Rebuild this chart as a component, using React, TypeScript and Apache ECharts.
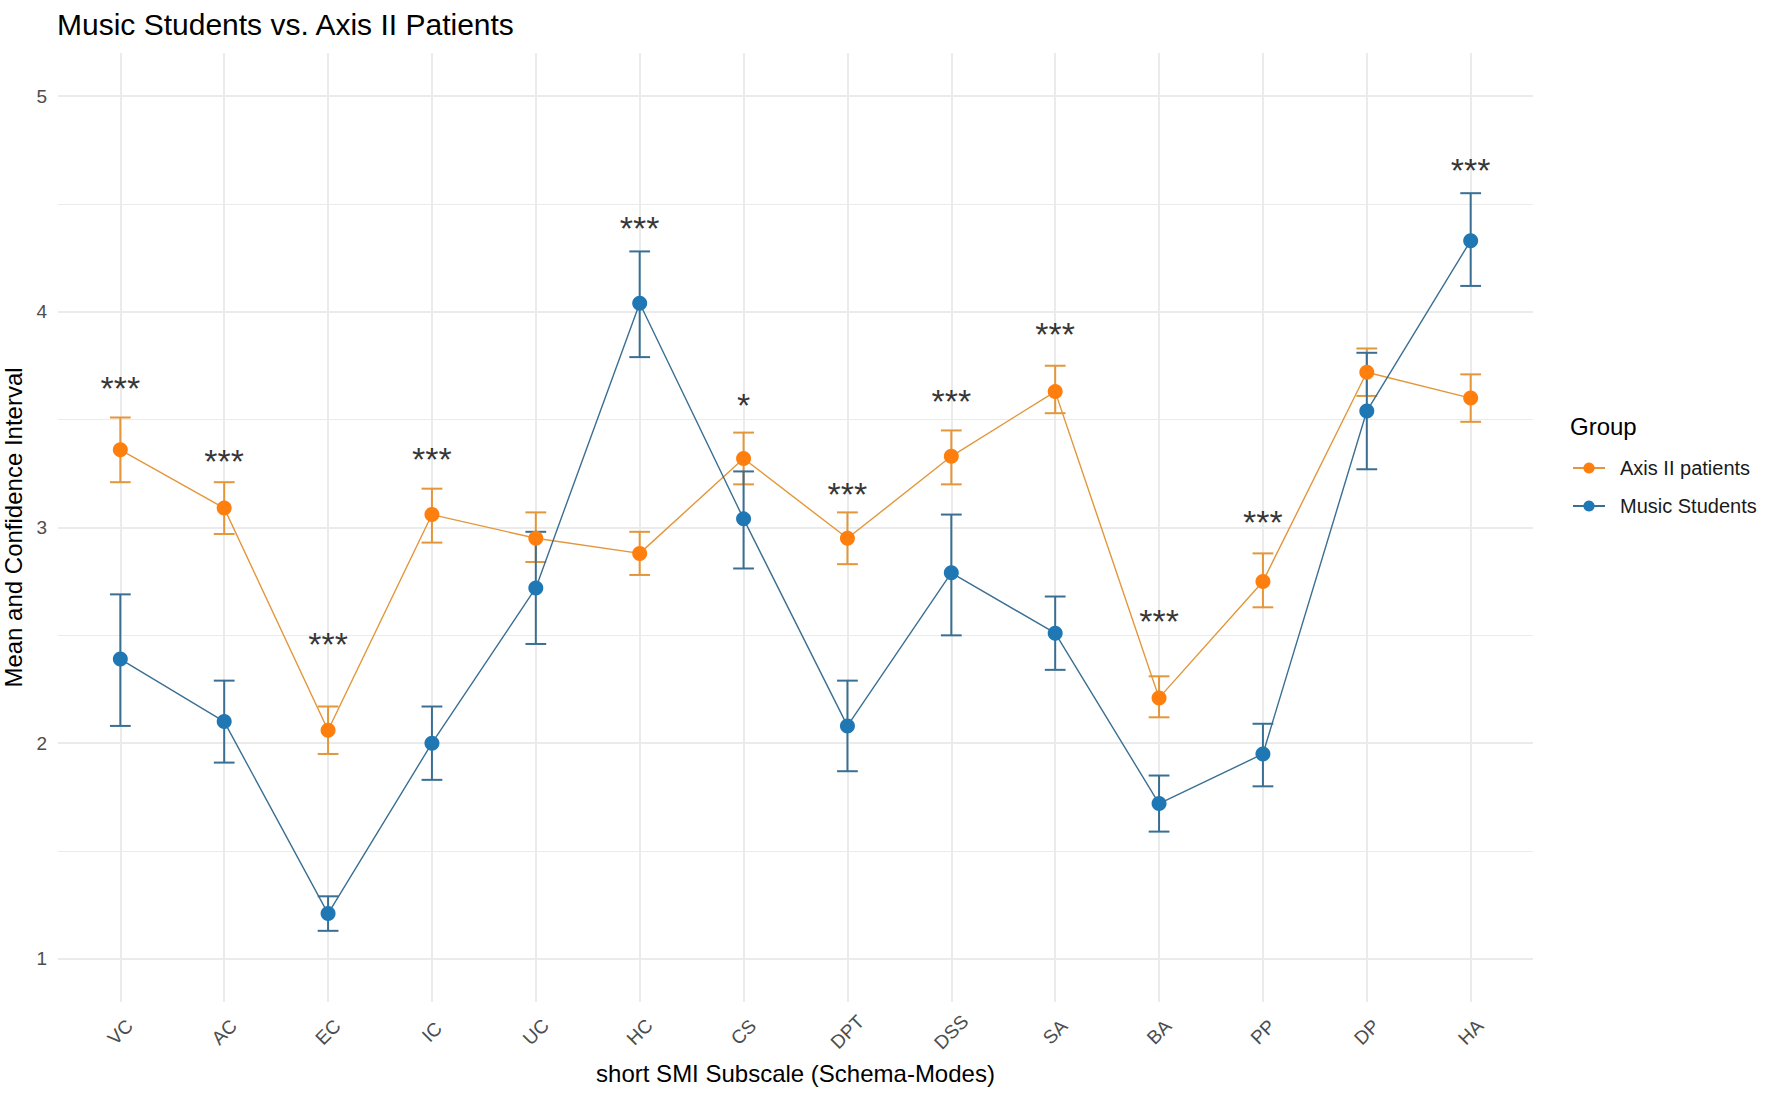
import { useEffect, useRef } from "react";
import * as echarts from "echarts";

const categories = ["VC", "AC", "EC", "IC", "UC", "HC", "CS", "DPT", "DSS", "SA", "BA", "PP", "DP", "HA"];

const axisMean = [3.36, 3.09, 2.06, 3.06, 2.95, 2.88, 3.32, 2.95, 3.33, 3.63, 2.21, 2.75, 3.72, 3.6];
const axisLower = [3.21, 2.97, 1.95, 2.93, 2.84, 2.78, 3.2, 2.83, 3.2, 3.53, 2.12, 2.63, 3.61, 3.49];
const axisUpper = [3.51, 3.21, 2.17, 3.18, 3.07, 2.98, 3.44, 3.07, 3.45, 3.75, 2.31, 2.88, 3.83, 3.71];

const musicMean = [2.39, 2.1, 1.21, 2.0, 2.72, 4.04, 3.04, 2.08, 2.79, 2.51, 1.72, 1.95, 3.54, 4.33];
const musicLower = [2.08, 1.91, 1.13, 1.83, 2.46, 3.79, 2.81, 1.87, 2.5, 2.34, 1.59, 1.8, 3.27, 4.12];
const musicUpper = [2.69, 2.29, 1.29, 2.17, 2.98, 4.28, 3.26, 2.29, 3.06, 2.68, 1.85, 2.09, 3.81, 4.55];

const sigLabels = ["***", "***", "***", "***", "", "***", "*", "***", "***", "***", "***", "***", "", "***"];
const sigY = [3.68, 3.34, 2.49, 3.35, 0, 4.42, 3.6, 3.19, 3.62, 3.93, 2.6, 3.06, 0, 4.69];

const yTicks = [1, 2, 3, 4, 5];
const yMinorTicks = [1.5, 2.5, 3.5, 4.5];

const FONT = "'Liberation Sans', Arial, sans-serif";
const GRID_COLOR = "#EBEBEB";

const AXIS_POINT = "#FF7F0E";
const AXIS_LINE = "#E3963A";
const MUSIC_POINT = "#1F77B4";
const MUSIC_LINE = "#3A6F93";


function errorBarSeries(name: string, lower: number[], upper: number[], color: string) {
  return {
    type: "custom",
    name,
    silent: true,
    z: 3,
    encode: { x: 0, y: [1, 2] },
    data: categories.map((_, i) => [i, lower[i], upper[i]]),
    renderItem: (_params: unknown, api: any) => {
      const x = api.value(0);
      const lo = api.value(1);
      const hi = api.value(2);
      const top = api.coord([x, hi]);
      const bottom = api.coord([x, lo]);
      const left = api.coord([x - 0.1, hi])[0];
      const right = api.coord([x + 0.1, hi])[0];
      const style = { stroke: color, lineWidth: 2 };
      return {
        type: "group",
        children: [
          { type: "line", shape: { x1: top[0], y1: top[1], x2: bottom[0], y2: bottom[1] }, style },
          { type: "line", shape: { x1: left, y1: top[1], x2: right, y2: top[1] }, style },
          { type: "line", shape: { x1: left, y1: bottom[1], x2: right, y2: bottom[1] }, style },
        ],
      };
    },
  };
}


function meanSeries(name: string, values: number[], pointColor: string, lineColor: string) {
  return {
    type: "line",
    name,
    z: 4,
    data: values.map((v, i) => [i, v]),
    symbol: "circle",
    symbolSize: 15,
    showSymbol: true,
    lineStyle: { color: lineColor, width: 1.4 },
    itemStyle: { color: pointColor, borderWidth: 0 },
    emphasis: { disabled: true },
  };
}


export default function App() {
  const containerRef = useRef<HTMLDivElement | null>(null);

  useEffect(() => {
    if (!containerRef.current) {
      return;
    }

    const chart = echarts.init(containerRef.current, null, { renderer: "svg" });

    const gridLines = [
      ...categories.map((_, i) => ({ xAxis: i, lineStyle: { width: 2 } })),
      ...yTicks.map((v) => ({ yAxis: v, lineStyle: { width: 2 } })),
      ...yMinorTicks.map((v) => ({ yAxis: v, lineStyle: { width: 1.2 } })),
    ];

    const option = {
      animation: false,
      backgroundColor: "#ffffff",
      textStyle: { fontFamily: FONT },
      title: [
        {
          text: "Music Students vs. Axis II Patients",
          left: 57,
          top: 9,
          padding: 0,
          textStyle: { fontFamily: FONT, fontSize: 30, fontWeight: "normal", color: "#000000" },
        },
        {
          text: "Group",
          left: 1570,
          top: 414,
          padding: 0,
          textStyle: { fontFamily: FONT, fontSize: 24, fontWeight: "normal", color: "#000000" },
        },
      ],
      legend: {
        data: ["Axis II patients", "Music Students"],
        orient: "vertical",
        left: 1572,
        top: 458,
        padding: 0,
        itemGap: 18,
        itemWidth: 32,
        itemHeight: 14,
        selectedMode: false,
        textStyle: { fontFamily: FONT, fontSize: 20, color: "#1A1A1A", padding: [0, 0, 0, 10] },
      },
      grid: {
        left: 58,
        right: 239,
        top: 53,
        bottom: 93,
        containLabel: false,
        outerBoundsMode: "none",
      },
      xAxis: {
        type: "value",
        min: -0.6,
        max: 13.6,
        name: "short SMI Subscale (Schema-Modes)",
        nameLocation: "middle",
        nameGap: 59,
        nameTextStyle: { fontFamily: FONT, fontSize: 24, color: "#000000" },
        axisLine: { show: false },
        axisTick: { show: false },
        splitLine: { show: false },
        axisLabel: {
          customValues: categories.map((_, i) => i),
          formatter: (v: number) => categories[Math.round(v)] ?? "",
          rotate: 45,
          align: "center",
          verticalAlign: "middle",
          margin: 30,
          fontFamily: FONT,
          fontSize: 19,
          color: "#4D4D4D",
        },
      },
      yAxis: {
        type: "value",
        min: 0.8,
        max: 5.2,
        name: "Mean and Confidence Interval",
        nameLocation: "middle",
        nameGap: 31,
        nameTextStyle: { fontFamily: FONT, fontSize: 24, color: "#000000" },
        axisLine: { show: false },
        axisTick: { show: false },
        splitLine: { show: false },
        axisLabel: {
          customValues: yTicks,
          formatter: (v: number) => String(v),
          margin: 11,
          fontFamily: FONT,
          fontSize: 19,
          color: "#4D4D4D",
        },
      },
      series: [
        {
          type: "line",
          name: "_grid",
          data: [],
          silent: true,
          z: 0,
          markLine: {
            silent: true,
            z: 0,
            symbol: ["none", "none"],
            label: { show: false },
            emphasis: { disabled: true },
            lineStyle: { color: GRID_COLOR, type: "solid", width: 2 },
            data: gridLines,
          },
        },
        meanSeries("Axis II patients", axisMean, AXIS_POINT, AXIS_LINE),
        meanSeries("Music Students", musicMean, MUSIC_POINT, MUSIC_LINE),
        errorBarSeries("Axis II patients", axisLower, axisUpper, AXIS_LINE),
        errorBarSeries("Music Students", musicLower, musicUpper, MUSIC_LINE),
        {
          type: "scatter",
          name: "_sig",
          silent: true,
          z: 6,
          symbolSize: 1,
          itemStyle: { color: "rgba(0,0,0,0)" },
          data: sigLabels
            .map((label, i) => [i, sigY[i], label])
            .filter((d) => d[2] !== ""),
          label: {
            show: true,
            position: "inside",
            formatter: (p: any) => p.value[2],
            fontFamily: FONT,
            fontSize: 34,
            color: "#000000",
            offset: [0, 7],
          },
        },
      ],
    };

    chart.setOption(option as echarts.EChartsOption);

    return () => {
      chart.dispose();
    };
  }, []);

  return (
    <div
      ref={containerRef}
      style={{ position: "absolute", left: 0, top: 0, width: 1772, height: 1095, background: "#ffffff" }}
    />
  );
}
